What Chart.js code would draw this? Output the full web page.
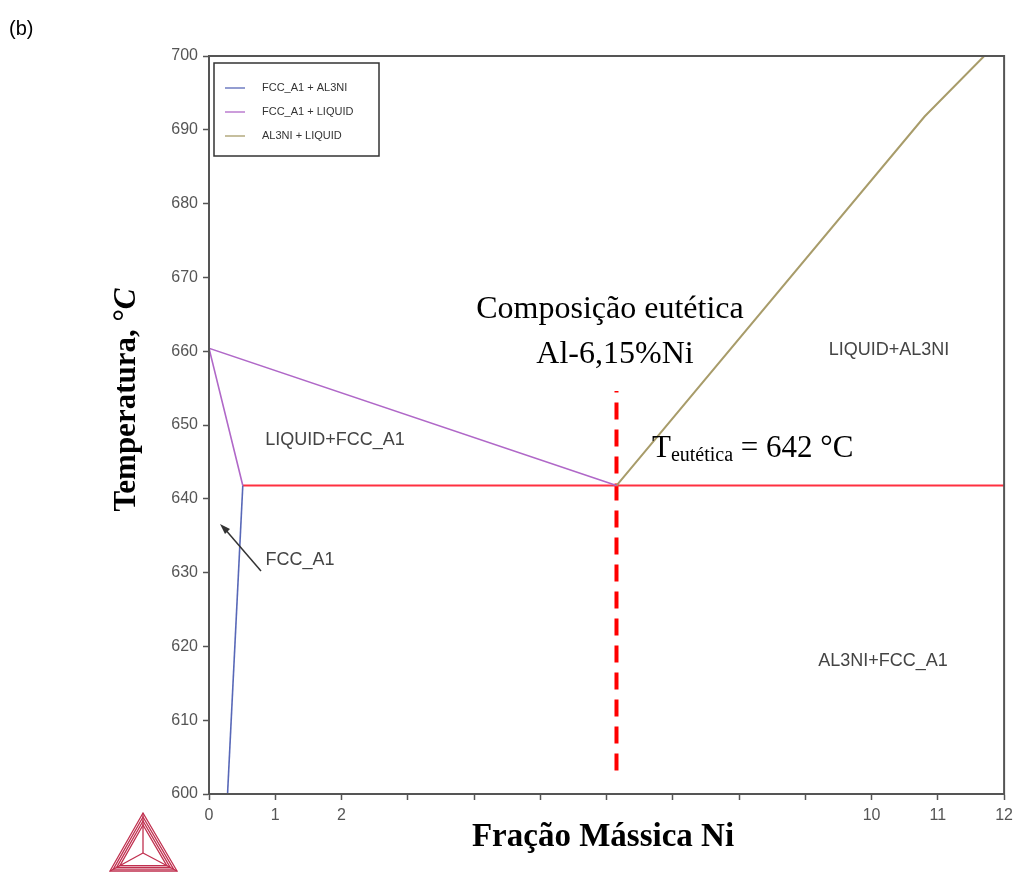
<!DOCTYPE html>
<html>
<head>
<meta charset="utf-8">
<script src="https://cdn.jsdelivr.net/npm/chart.js@4.4.1/dist/chart.umd.min.js"></script>
<style>
  html, body { margin: 0; padding: 0; background: #fff; }
  #wrap { position: relative; width: 1019px; height: 873px; }
</style>
</head>
<body>
<div id="wrap"><canvas id="diagrama"></canvas></div>
<script>
const solvusNi = [0.28, 0.51];
const solvusT = [600, 641.8];
const fccLiqNi = [0.51, 0, 6.15];
const fccLiqT = [641.8, 660.4, 641.8];
const al3niLiqNi = [6.15, 10.8, 11.7];
const al3niLiqT = [641.8, 691.8, 700];
const eutecticaNi = [0.51, 12];
const eutecticaT = [641.8, 641.8];
const composicaoNi = [6.15, 6.15];
const composicaoT = [603.2, 654.6];

const xTicksShown = [0, 1, 2, 10, 11, 12];
const legendaNomes = ["FCC_A1 + AL3NI", "FCC_A1 + LIQUID", "AL3NI + LIQUID"];

const pts = (xs, ys) => xs.map((x, i) => ({ x: x, y: ys[i] }));

const sans = "'Liberation Sans', Arial, sans-serif";
const serif = "'Liberation Serif', 'Times New Roman', serif";

const extras = {
    id: "extras",
    afterDraw(chart) {
        const ctx = chart.ctx;
        const a = chart.chartArea;
        ctx.save();

        // moldura
        ctx.strokeStyle = "#555";
        ctx.lineWidth = 2;
        ctx.strokeRect(a.left, a.top, a.right - a.left, a.bottom - a.top);

        // legenda
        ctx.strokeStyle = "#333";
        ctx.lineWidth = 1.5;
        ctx.strokeRect(214, 63, 165, 93);
        ctx.font = "11px " + sans;
        ctx.textBaseline = "middle";
        legendaNomes.forEach((nome, i) => {
            const y = 88 + i * 24;
            ctx.strokeStyle = chart.data.datasets[i].borderColor;
            ctx.lineWidth = 1.3;
            ctx.beginPath(); ctx.moveTo(225, y); ctx.lineTo(245, y); ctx.stroke();
            ctx.fillStyle = "#333";
            ctx.fillText(nome, 262, y);
        });

        // regioes
        ctx.fillStyle = "#444";
        ctx.font = "18px " + sans;
        ctx.textAlign = "center";
        ctx.fillText("LIQUID+AL3NI", 889, 350);
        ctx.fillText("LIQUID+FCC_A1", 335, 440);
        ctx.fillText("FCC_A1", 300, 560);
        ctx.fillText("AL3NI+FCC_A1", 883, 661);

        // seta
        ctx.strokeStyle = "#333";
        ctx.lineWidth = 1.5;
        ctx.beginPath(); ctx.moveTo(261, 571); ctx.lineTo(224, 528); ctx.stroke();
        ctx.fillStyle = "#333";
        ctx.beginPath();
        ctx.moveTo(220, 524); ctx.lineTo(230, 529); ctx.lineTo(225, 534); ctx.closePath(); ctx.fill();

        // anotacoes
        ctx.fillStyle = "#000";
        ctx.font = "32px " + serif;
        ctx.fillText("Composição eutética", 610, 310);
        ctx.fillText("Al-6,15%Ni", 615, 355);
        ctx.textAlign = "left";
        ctx.font = "31px " + serif;
        ctx.fillText("T", 652, 449);
        let tw = ctx.measureText("T").width;
        ctx.font = "20px " + serif;
        ctx.fillText("eutética", 652 + tw, 456);
        let sw = ctx.measureText("eutética").width;
        ctx.font = "31px " + serif;
        ctx.fillText(" = 642 °C", 652 + tw + sw, 449);

        // titulos
        ctx.textAlign = "center";
        ctx.font = "bold 33px " + serif;
        ctx.fillText("Fração Mássica Ni", 603, 837);

        ctx.save();
        ctx.translate(127, 400);
        ctx.rotate(-Math.PI / 2);
        ctx.font = "bold 31px " + serif;
        const parte = "Temperatura, °";
        const w1 = ctx.measureText(parte).width;
        ctx.font = "bold italic 31px " + serif;
        const w2 = ctx.measureText("C").width;
        ctx.textAlign = "left";
        ctx.font = "bold 31px " + serif;
        ctx.fillText(parte, -(w1 + w2) / 2, 0);
        ctx.font = "bold italic 31px " + serif;
        ctx.fillText("C", -(w1 + w2) / 2 + w1, 0);
        ctx.restore();

        // (b)
        ctx.font = "20px " + sans;
        ctx.textAlign = "left";
        ctx.fillText("(b)", 9, 29);

        // logotipo
        ctx.strokeStyle = "#c0304f";
        ctx.lineWidth = 1.3;
        const ap = [143, 813], bl = [110, 871], br = [177, 871], c = [143, 853];
        [0, 4, 8, 12].forEach(k => {
            const f = k / 40;
            const p = [ap, bl, br].map(v => [v[0] + (c[0] - v[0]) * f, v[1] + (c[1] - v[1]) * f]);
            ctx.beginPath();
            ctx.moveTo(p[0][0], p[0][1]); ctx.lineTo(p[1][0], p[1][1]); ctx.lineTo(p[2][0], p[2][1]); ctx.closePath();
            ctx.stroke();
        });
        [ap, bl, br].forEach(v => {
            ctx.beginPath(); ctx.moveTo(v[0], v[1]); ctx.lineTo(c[0], c[1]); ctx.stroke();
        });

        ctx.restore();
    }
};

new Chart(document.getElementById("diagrama"), {
    type: "scatter",
    data: {
        datasets: [
            { label: legendaNomes[0], data: pts(solvusNi, solvusT), borderColor: "#5868b8", borderWidth: 1.6 },
            { label: legendaNomes[1], data: pts(fccLiqNi, fccLiqT), borderColor: "#b068c8", borderWidth: 1.6 },
            { label: legendaNomes[2], data: pts(al3niLiqNi, al3niLiqT), borderColor: "#a89c6a", borderWidth: 2 },
            { label: "eutetica", data: pts(eutecticaNi, eutecticaT), borderColor: "#ff3040", borderWidth: 2 },
            { label: "composicao", data: pts(composicaoNi, composicaoT), borderColor: "#ff0000", borderWidth: 4, borderDash: [17, 10] }
        ].map(d => Object.assign(d, { showLine: true, pointRadius: 0, fill: false, tension: 0 }))
    },
    options: {
        responsive: true,
        maintainAspectRatio: false,
        animation: false,
        events: [],
        layout: { padding: { left: 0, right: 14, top: 56, bottom: 0 } },
        plugins: { legend: { display: false }, tooltip: { enabled: false } },
        scales: {
            x: {
                type: "linear", min: 0, max: 12,
                afterFit: s => { s.height = 79; },
                afterBuildTicks: s => { s.ticks = Array.from({ length: 13 }, (_, i) => ({ value: i })); },
                ticks: {
                    color: "#555", font: { family: sans, size: 16 }, padding: 6,
                    callback: v => xTicksShown.includes(v) ? String(v) : ""
                },
                grid: { drawOnChartArea: false, tickLength: 6, tickColor: "#555", tickWidth: 1.5 },
                border: { color: "#555", width: 2 }
            },
            y: {
                type: "linear", min: 600, max: 700,
                afterFit: s => { s.width = 209; },
                ticks: { stepSize: 10, color: "#555", font: { family: sans, size: 16 }, padding: 5 },
                grid: { drawOnChartArea: false, tickLength: 6, tickColor: "#555", tickWidth: 1.5 },
                border: { color: "#555", width: 2 }
            }
        }
    },
    plugins: [extras]
});
</script>
</body>
</html>
